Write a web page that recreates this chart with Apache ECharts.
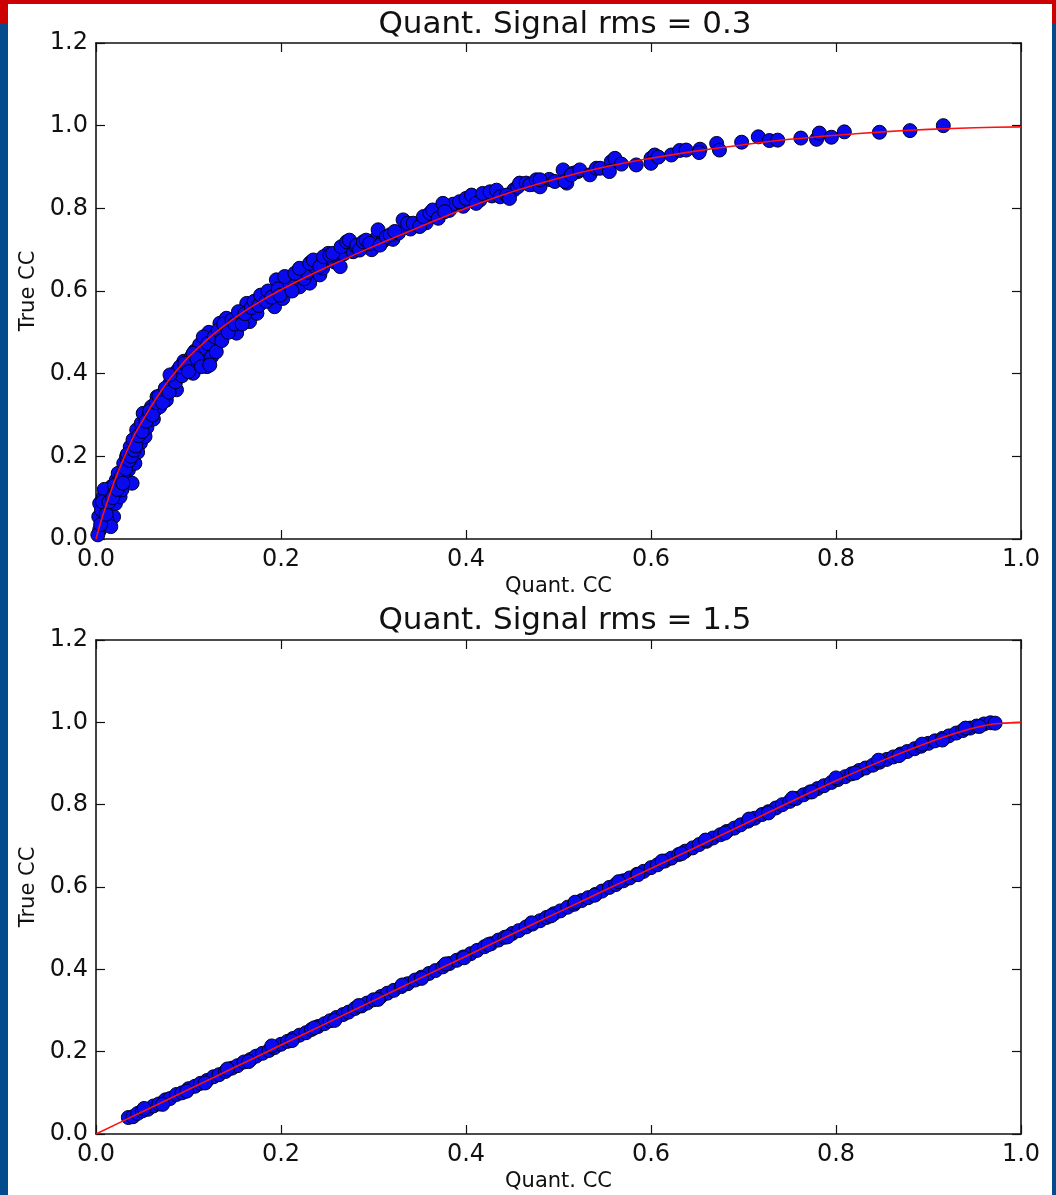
<!DOCTYPE html>
<html><head><meta charset="utf-8">
<script src="https://cdn.jsdelivr.net/npm/echarts@6/dist/echarts.min.js"></script>
<style>html,body{margin:0;padding:0;background:#fff}#c{width:1056px;height:1195px}</style>
</head><body><div id="c"></div>
<script>
const titles = ['Quant. Signal rms = 0.3', 'Quant. Signal rms = 1.5'];
const xName = 'Quant. CC';
const yName = 'True CC';
const xTickLabels = ['0.0','0.2','0.4','0.6','0.8','1.0'];
const yTickLabels = ['0.0','0.2','0.4','0.6','0.8','1.0','1.2'];

const scatter1 = [
[0.004,0.022],[0.003,0.054],[0.004,0.086],[0.008,0.102],[0.010,0.038],[0.013,0.070],[0.015,0.102],[0.017,0.127],[0.019,0.054],[0.021,0.086],
[0.022,0.143],[0.024,0.159],[0.026,0.102],[0.028,0.119],[0.030,0.183],[0.031,0.151],[0.033,0.199],[0.035,0.167],[0.037,0.223],[0.039,0.135],
[0.040,0.240],[0.042,0.183],[0.044,0.264],[0.048,0.232],[0.049,0.280],[0.051,0.304],[0.053,0.248],[0.057,0.296],[0.060,0.320],[0.064,0.312],
[0.066,0.344],[0.069,0.320],[0.073,0.353],[0.076,0.336],[0.080,0.377],[0.084,0.385],[0.087,0.361],[0.091,0.401],[0.096,0.409],[0.102,0.425],
[0.105,0.401],[0.109,0.433],[0.114,0.457],[0.118,0.474],[0.118,0.489],[0.120,0.417],
[0.006,0.070],[0.012,0.045],[0.016,0.030],[0.009,0.120],[0.020,0.110],[0.025,0.130],[0.030,0.160],[0.045,0.210],[0.055,0.270],[0.062,0.290],
[0.070,0.340],[0.078,0.360],[0.085,0.400],
[0.002,0.010],[0.005,0.035],[0.007,0.090],[0.011,0.060],[0.014,0.090],[0.018,0.100],[0.020,0.130],[0.023,0.120],[0.027,0.150],[0.029,0.135],
[0.032,0.170],[0.034,0.205],[0.036,0.190],[0.038,0.200],[0.041,0.215],
[0.043,0.225],[0.046,0.250],[0.050,0.260],[0.054,0.285],[0.058,0.310],[0.061,0.300],[0.065,0.330],[0.068,0.345],[0.072,0.330],[0.075,0.365],
[0.079,0.355],[0.082,0.390],[0.086,0.380],[0.089,0.410],[0.093,0.395],[0.095,0.430],[0.098,0.415],[0.103,0.440],[0.107,0.455],[0.110,0.425],
[0.112,0.470],[0.116,0.450],[0.119,0.460],[0.122,0.500],[0.126,0.470],
[0.080,0.397],[0.091,0.417],[0.096,0.425],[0.100,0.405],[0.105,0.449],[0.109,0.437],[0.114,0.417],[0.116,0.489],[0.121,0.473],[0.125,0.441],
[0.123,0.421],[0.130,0.453],[0.134,0.522],[0.141,0.534],[0.145,0.514],[0.152,0.498],[0.156,0.538],[0.163,0.570],[0.166,0.526],[0.174,0.546],
[0.181,0.590],[0.188,0.578],[0.193,0.562],[0.195,0.627],[0.202,0.582],[0.206,0.619],[0.217,0.639],[0.220,0.610],[0.231,0.619],[0.233,0.671],
[0.238,0.647],[0.242,0.639],[0.247,0.679],[0.251,0.691],
[0.128,0.490],[0.132,0.505],[0.136,0.480],[0.138,0.520],[0.143,0.500],[0.147,0.530],[0.150,0.520],[0.154,0.550],[0.158,0.520],[0.161,0.545],
[0.168,0.560],[0.171,0.575],[0.176,0.565],[0.178,0.590],[0.184,0.575],[0.186,0.600],[0.190,0.585],[0.197,0.605],[0.199,0.590],[0.210,0.615],
[0.212,0.600],[0.225,0.630],[0.228,0.645],[0.236,0.660],[0.245,0.655],[0.258,0.670],[0.262,0.680],[0.268,0.690],[0.278,0.695],[0.280,0.710],
[0.298,0.700],[0.302,0.725],[0.310,0.720],[0.321,0.725],[0.327,0.740],[0.340,0.750],[0.346,0.760],[0.357,0.765],[0.368,0.780],[0.382,0.795],
[0.386,0.810],[0.397,0.805],[0.415,0.820],[0.428,0.830],[0.452,0.845],[0.456,0.852],[0.472,0.858],[0.490,0.870],[0.496,0.865],
[0.204,0.635],[0.215,0.643],[0.220,0.655],[0.231,0.667],[0.235,0.675],[0.242,0.659],[0.246,0.683],[0.253,0.687],[0.256,0.691],[0.264,0.659],
[0.265,0.707],[0.271,0.719],[0.274,0.723],[0.282,0.711],[0.285,0.699],[0.289,0.719],[0.292,0.723],[0.296,0.715],[0.305,0.748],[0.307,0.711],
[0.314,0.731],[0.318,0.736],[0.323,0.744],[0.332,0.772],[0.337,0.764],[0.343,0.764],[0.350,0.756],[0.354,0.780],[0.361,0.788],[0.364,0.796],
[0.370,0.776],[0.375,0.812],[0.377,0.792],[0.393,0.816],[0.400,0.824],[0.406,0.832],[0.411,0.812],[0.418,0.836],[0.426,0.840],[0.433,0.844],
[0.437,0.828],[0.444,0.832],[0.447,0.824],[0.458,0.861],[0.465,0.861],[0.469,0.857],[0.476,0.869],[0.480,0.852],[0.505,0.893],[0.509,0.861],
[0.516,0.885],[0.521,0.889],
[0.480,0.869],[0.507,0.865],[0.514,0.881],[0.523,0.893],[0.534,0.881],[0.541,0.897],[0.545,0.897],[0.557,0.913],[0.561,0.921],[0.555,0.889],
[0.568,0.907],[0.584,0.905],[0.600,0.921],[0.604,0.929],[0.600,0.909],[0.608,0.924],[0.622,0.929],[0.631,0.940],[0.638,0.941],[0.653,0.943],
[0.652,0.935],[0.671,0.957],[0.674,0.941],[0.698,0.960],[0.716,0.973],[0.728,0.964],[0.737,0.965],[0.762,0.970],[0.779,0.967],[0.782,0.982],
[0.795,0.972],[0.809,0.985],[0.847,0.984],[0.880,0.988],[0.916,1.000]
];

const fit1 = [
[0,0],[0.005,0.04],[0.01,0.075],[0.02,0.14],[0.03,0.195],[0.04,0.245],[0.05,0.285],[0.06,0.322],[0.07,0.357],[0.08,0.388],
[0.09,0.415],[0.10,0.44],[0.12,0.482],[0.14,0.518],[0.16,0.55],[0.18,0.578],[0.20,0.603],[0.22,0.626],[0.25,0.658],[0.30,0.708],
[0.35,0.755],[0.40,0.80],[0.45,0.84],[0.50,0.873],[0.55,0.90],[0.60,0.921],[0.65,0.939],[0.70,0.954],[0.75,0.967],[0.80,0.977],
[0.85,0.985],[0.90,0.991],[0.95,0.995],[1.00,0.997]
];

const scatter2 = [
[0.035,0.040],[0.040,0.042],[0.045,0.050],[0.050,0.056],[0.056,0.060],[0.062,0.068],[0.068,0.073],[0.075,0.083],[0.080,0.086],[0.087,0.096],
[0.093,0.100],[0.100,0.110],[0.107,0.116],[0.113,0.123],[0.120,0.130],[0.127,0.139],[0.133,0.144],[0.140,0.152],[0.147,0.160],[0.153,0.166],
[0.160,0.175],[0.167,0.181],[0.173,0.189],[0.180,0.196],[0.187,0.203],[0.193,0.210],[0.200,0.218],[0.207,0.225],[0.213,0.232],[0.220,0.240],
[0.227,0.246],[0.233,0.254],[0.240,0.261],[0.247,0.268],[0.253,0.275],[0.260,0.283],[0.267,0.290],[0.273,0.296],[0.280,0.305],[0.287,0.311],
[0.293,0.318],[0.300,0.326],[0.308,0.334],[0.315,0.342],[0.322,0.349],[0.330,0.358],[0.337,0.365],[0.345,0.374],[0.352,0.381],[0.360,0.390],
[0.367,0.397],[0.375,0.406],[0.382,0.414],[0.390,0.422],[0.397,0.430],[0.405,0.438],[0.412,0.446],[0.420,0.455],[0.427,0.462],[0.435,0.471],
[0.442,0.478],[0.450,0.487],[0.457,0.494],[0.465,0.503],[0.472,0.510],[0.480,0.518],[0.487,0.526],[0.495,0.535],[0.502,0.542],[0.510,0.551],
[0.517,0.558],[0.525,0.567],[0.532,0.574],[0.540,0.582],[0.547,0.590],[0.555,0.599],[0.562,0.606],[0.570,0.615],[0.577,0.622],[0.585,0.631],
[0.592,0.638],[0.600,0.647],[0.607,0.654],[0.615,0.663],[0.622,0.670],[0.630,0.679],[0.637,0.687],[0.645,0.695],[0.652,0.703],[0.660,0.711],
[0.667,0.719],[0.675,0.727],[0.682,0.735],[0.690,0.743],[0.697,0.751],[0.705,0.760],[0.712,0.767],[0.720,0.776],[0.727,0.783],[0.735,0.792],
[0.742,0.800],[0.750,0.808],[0.757,0.815],[0.765,0.824],[0.772,0.831],[0.780,0.839],[0.787,0.846],[0.795,0.854],[0.802,0.861],[0.810,0.868],
[0.817,0.875],[0.825,0.883],[0.832,0.889],[0.840,0.896],[0.847,0.903],[0.855,0.910],[0.862,0.916],[0.870,0.923],[0.877,0.929],[0.885,0.936],
[0.892,0.942],[0.900,0.949],[0.907,0.955],[0.915,0.961],[0.922,0.967],[0.930,0.974],[0.937,0.980],[0.945,0.986],[0.952,0.991],[0.960,0.996],
[0.967,0.999],[0.972,0.998],
[0.052,0.062],[0.098,0.104],[0.142,0.158],[0.190,0.214],[0.236,0.258],[0.284,0.312],[0.331,0.362],[0.378,0.413],[0.424,0.460],[0.471,0.513],
[0.518,0.563],[0.565,0.613],[0.612,0.663],[0.659,0.714],[0.706,0.765],[0.753,0.816],[0.800,0.865],[0.846,0.908],[0.893,0.947],[0.940,0.986],
[0.072,0.072],[0.118,0.124],[0.165,0.176],[0.212,0.227],[0.258,0.276],[0.305,0.327],[0.352,0.378],[0.398,0.428],[0.445,0.479],[0.492,0.530],
[0.539,0.580],[0.586,0.630],[0.633,0.681],[0.680,0.731],[0.727,0.780],[0.774,0.831],[0.821,0.877],[0.868,0.919],[0.915,0.957],[0.955,0.990]
];

const fit2 = [
[0,0],[0.05,0.054],[0.1,0.108],[0.15,0.162],[0.2,0.216],[0.25,0.27],[0.3,0.324],[0.35,0.378],[0.4,0.432],[0.45,0.486],
[0.5,0.539],[0.55,0.592],[0.6,0.645],[0.65,0.698],[0.7,0.752],[0.75,0.806],[0.8,0.858],[0.85,0.907],[0.9,0.951],[0.93,0.974],
[0.95,0.987],[0.97,0.996],[0.98,0.998],[1.0,1.0]
];

const FONT = 'DejaVu Sans';
const grids = [
  {left: 96, top: 43, width: 925, height: 496},
  {left: 96, top: 640, width: 925, height: 494}
];
const axisLineStyle = {show: true, onZero: false, lineStyle: {color: '#111', width: 1.6}};
const tickStyle = {show: true, inside: true, length: 9, lineStyle: {color: '#111', width: 1.2}};

function xAxes(g) {
  return [
    {type: 'value', gridIndex: g, min: 0, max: 1, interval: 0.2, position: 'bottom',
     name: xName, nameLocation: 'middle', nameGap: 37,
     nameTextStyle: {fontFamily: FONT, fontSize: 21, color: '#111'},
     axisLine: axisLineStyle, axisTick: tickStyle, splitLine: {show: false},
     axisLabel: {fontFamily: FONT, fontSize: 24, color: '#111', margin: 9,
       formatter: v => xTickLabels[Math.round(v / 0.2)]}},
    {type: 'value', gridIndex: g, min: 0, max: 1, interval: 0.2, position: 'top',
     axisLine: axisLineStyle, axisTick: tickStyle, splitLine: {show: false}, axisLabel: {show: false}}
  ];
}
function yAxes(g) {
  return [
    {type: 'value', gridIndex: g, min: 0, max: 1.2, interval: 0.2, position: 'left',
     name: yName, nameLocation: 'middle', nameGap: 51,
     nameTextStyle: {fontFamily: FONT, fontSize: 21, color: '#111'},
     axisLine: axisLineStyle, axisTick: tickStyle, splitLine: {show: false},
     axisLabel: {fontFamily: FONT, fontSize: 24, color: '#111', margin: 8,
       formatter: v => yTickLabels[Math.round(v / 0.2)]}},
    {type: 'value', gridIndex: g, min: 0, max: 1.2, interval: 0.2, position: 'right',
     axisLine: axisLineStyle, axisTick: tickStyle, splitLine: {show: false}, axisLabel: {show: false}}
  ];
}

const scatterStyle = {color: '#0a0af0', borderColor: '#000020', borderWidth: 1, opacity: 1};
const chart = echarts.init(document.getElementById('c'), null, {renderer: 'canvas'});
chart.setOption({
  backgroundColor: '#ffffff',
  animation: false,
  title: [
    {text: titles[0], left: 560, top: 4, textAlign: 'center',
     textStyle: {fontFamily: FONT, fontSize: 31, fontWeight: 'normal', color: '#111'}},
    {text: titles[1], left: 560, top: 600, textAlign: 'center',
     textStyle: {fontFamily: FONT, fontSize: 31, fontWeight: 'normal', color: '#111'}}
  ],
  grid: grids,
  xAxis: [...xAxes(0), ...xAxes(1)],
  yAxis: [...yAxes(0), ...yAxes(1)],
  series: [
    {type: 'scatter', xAxisIndex: 0, yAxisIndex: 0, data: scatter1, symbolSize: 14, itemStyle: scatterStyle, clip: true, z: 2},
    {type: 'line', xAxisIndex: 0, yAxisIndex: 0, data: fit1, smooth: 0.3, showSymbol: false, symbol: 'none',
     lineStyle: {color: '#ff1010', width: 1.6}, z: 3},
    {type: 'scatter', xAxisIndex: 2, yAxisIndex: 2, data: scatter2, symbolSize: 14, itemStyle: scatterStyle, clip: true, z: 2},
    {type: 'line', xAxisIndex: 2, yAxisIndex: 2, data: fit2, smooth: 0.3, showSymbol: false, symbol: 'none',
     lineStyle: {color: '#ff1010', width: 1.6}, z: 3}
  ],
  graphic: [
    {type: 'rect', left: 0, top: 0, shape: {width: 1056, height: 4}, style: {fill: '#cc0000'}, z: 100},
    {type: 'rect', left: 0, top: 0, shape: {width: 8, height: 23}, style: {fill: '#cc0000'}, z: 100},
    {type: 'rect', left: 1052, top: 0, shape: {width: 4, height: 23}, style: {fill: '#cc0000'}, z: 100},
    {type: 'rect', left: 0, top: 23, shape: {width: 8, height: 1172}, style: {fill: '#054a8c'}, z: 100},
    {type: 'rect', left: 1052, top: 23, shape: {width: 4, height: 1172}, style: {fill: '#054a8c'}, z: 100}
  ]
});
</script></body></html>
